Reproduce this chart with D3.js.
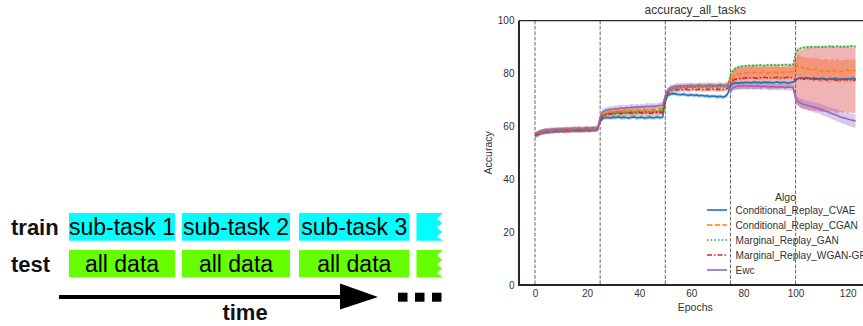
<!DOCTYPE html>
<html><head><meta charset="utf-8">
<script src="https://cdn.jsdelivr.net/npm/d3@7"></script>
<style>html,body{margin:0;padding:0;background:#fff;}svg{display:block;font-family:"Liberation Sans",Arial,sans-serif;}</style>
</head><body>
<svg id="c" width="863" height="326"></svg>
<script>
// ---------- data ----------
const epochs = d3.range(0, 124);
const taskBoundaries = [0, 25, 50, 75, 100];
const yTicks = [0, 20, 40, 60, 80, 100];
const xTicks = [0, 20, 40, 60, 80, 100, 120];
const algos = ["Conditional_Replay_CVAE", "Conditional_Replay_CGAN", "Marginal_Replay_GAN", "Marginal_Replay_WGAN-GP", "Ewc"];
const colors = ["#1f77b4", "#ff7f0e", "#2ca02c", "#d62728", "#9467bd"];
const trainLabels = ["sub-task 1", "sub-task 2", "sub-task 3"];
const testLabels = ["all data", "all data", "all data"];

const cvaeMean = [
56.9,57.3,57.6,57.9,58.1,58.0,58.3,58.2,58.5,58.4,58.6,58.3,58.7,58.5,58.8,58.6,58.7,58.9,58.6,58.8,58.9,58.7,59.0,58.8,59.1,
62.0,63.0,63.3,63.4,63.2,63.5,63.4,63.6,63.3,63.5,63.4,63.2,63.5,63.6,63.3,63.4,63.5,63.2,63.4,63.5,63.3,63.4,63.6,63.3,63.5,
69.5,71.8,72.2,72.4,72.3,72.1,72.0,72.2,71.9,71.8,72.0,71.7,71.9,71.6,71.8,71.5,71.6,71.3,71.5,71.4,71.2,71.4,71.1,71.3,72.4,
75.5,76.3,76.5,76.4,76.6,76.5,76.7,76.6,76.5,76.8,76.6,76.7,76.5,76.8,76.6,76.7,76.5,76.6,76.8,76.5,76.7,76.6,76.4,76.6,76.7,
77.5,78.2,78.3,78.1,78.4,78.2,78.0,78.3,78.1,77.9,78.2,78.0,77.8,78.1,77.9,78.2,78.0,77.7,78.0,77.8,78.1,77.9,78.2,78.0];
const cvaeStd = [
0.9,0.8,1.0,0.9,0.8,1.0,0.9,0.8,0.9,1.0,0.8,0.9,0.9,1.0,0.8,0.9,0.9,0.8,1.0,0.9,0.8,0.9,1.0,0.8,0.9,
0.9,0.8,0.7,0.8,0.7,0.9,0.8,0.7,0.8,0.9,0.7,0.8,0.8,0.7,0.9,0.8,0.7,0.8,0.9,0.7,0.8,0.8,0.9,0.7,0.8,
1.0,0.8,0.7,0.6,0.7,0.8,0.6,0.7,0.7,0.8,0.6,0.7,0.7,0.8,0.6,0.7,0.8,0.7,0.6,0.7,0.8,0.7,0.6,0.7,0.9,
0.8,0.6,0.5,0.5,0.6,0.5,0.5,0.4,0.5,0.6,0.5,0.5,0.4,0.5,0.6,0.5,0.5,0.4,0.5,0.6,0.5,0.5,0.4,0.5,0.5,
0.7,0.5,0.5,0.6,0.5,0.4,0.5,0.6,0.5,0.5,0.4,0.5,0.6,0.5,0.5,0.4,0.5,0.6,0.5,0.5,0.4,0.5,0.6,0.5];

const cganMean = [
56.7,57.2,57.7,58.0,58.3,58.1,58.6,58.4,58.8,58.5,58.9,58.7,59.0,58.6,58.9,59.1,58.8,59.0,58.9,59.2,58.8,59.1,59.0,59.3,59.2,
62.8,64.5,65.2,65.5,65.8,65.6,65.9,66.1,65.8,66.0,66.2,65.9,66.3,66.0,66.4,66.1,66.3,66.5,66.2,66.4,66.6,66.3,66.5,66.8,66.6,
71.0,73.5,74.4,74.8,75.0,75.2,75.1,75.3,75.0,75.4,75.2,75.5,75.3,75.1,75.4,75.2,75.5,75.3,75.6,75.4,75.2,75.5,75.3,75.6,75.9,
77.5,78.8,79.5,79.8,80.0,80.3,80.1,80.5,80.2,80.6,80.3,80.1,80.4,80.7,80.2,80.5,80.3,80.6,80.4,80.2,80.5,80.7,80.4,80.6,80.8,
82.0,83.2,82.6,81.8,82.4,81.5,82.1,81.3,81.9,81.2,80.8,81.6,81.0,80.7,81.3,80.9,81.5,80.6,81.1,80.8,81.4,80.9,81.2,81.0];
const cganStd = [
1.0,1.1,0.9,1.0,1.2,1.0,0.9,1.1,1.0,1.2,0.9,1.0,1.1,1.0,0.9,1.2,1.0,1.1,0.9,1.0,1.1,1.0,1.2,0.9,1.0,
1.2,1.1,1.0,0.9,1.1,1.0,1.2,0.9,1.0,1.1,1.0,0.9,1.1,1.2,1.0,0.9,1.1,1.0,1.0,1.2,0.9,1.1,1.0,1.2,1.1,
1.2,1.0,0.9,0.8,0.9,0.8,0.7,0.9,0.8,0.8,0.7,0.9,0.8,0.8,0.9,0.7,0.8,0.9,0.8,0.7,0.8,0.9,0.8,0.8,1.0,
2.0,2.3,2.5,2.4,2.6,2.5,2.3,2.6,2.4,2.5,2.7,2.4,2.6,2.5,2.3,2.6,2.5,2.4,2.7,2.5,2.6,2.4,2.5,2.6,2.5,
3.0,4.2,4.0,4.5,3.8,4.3,4.1,4.6,3.9,4.4,4.2,3.8,4.5,4.1,4.3,3.9,4.6,4.2,4.0,4.4,3.9,4.3,4.1,4.2];

const ganMean = [
56.8,57.3,57.8,58.0,58.2,58.4,58.3,58.5,58.4,58.7,58.5,58.6,58.8,58.5,58.7,58.9,58.6,58.8,58.7,58.9,59.0,58.8,59.1,58.9,59.2,
62.5,64.0,64.6,64.9,65.1,65.0,65.3,65.2,65.4,65.3,65.5,65.2,65.4,65.6,65.3,65.5,65.4,65.7,65.5,65.6,65.4,65.7,65.5,65.8,65.6,
70.8,73.2,74.0,74.4,74.6,74.8,74.7,74.9,74.8,75.0,74.9,75.1,74.9,75.2,75.0,75.1,74.9,75.2,75.0,75.3,75.1,75.2,75.0,75.3,75.8,
79.5,81.2,82.0,82.5,82.7,82.8,82.9,83.0,82.9,83.1,83.0,83.2,83.1,83.0,83.2,83.1,83.3,83.2,83.1,83.3,83.2,83.4,83.3,83.2,83.4,
87.8,89.2,89.6,89.8,90.0,89.9,90.1,90.0,90.2,90.1,90.0,90.2,90.1,90.3,90.2,90.1,90.3,90.2,90.1,90.3,90.2,90.4,90.3,90.2];
const ganStd = [
0.9,0.8,0.9,1.0,0.8,0.9,0.8,1.0,0.9,0.8,0.9,1.0,0.8,0.9,0.9,0.8,1.0,0.9,0.8,0.9,1.0,0.8,0.9,0.9,0.8,
0.8,0.7,0.8,0.7,0.6,0.8,0.7,0.7,0.8,0.6,0.7,0.8,0.7,0.6,0.8,0.7,0.7,0.8,0.6,0.7,0.8,0.7,0.7,0.6,0.8,
0.8,0.6,0.5,0.5,0.4,0.5,0.5,0.4,0.5,0.5,0.4,0.5,0.5,0.4,0.5,0.5,0.4,0.5,0.5,0.4,0.5,0.5,0.4,0.5,0.6,
1.0,0.7,0.5,0.4,0.4,0.5,0.4,0.4,0.5,0.4,0.4,0.5,0.4,0.4,0.5,0.4,0.4,0.5,0.4,0.4,0.5,0.4,0.4,0.5,0.6,
1.0,0.6,0.5,0.4,0.4,0.5,0.4,0.4,0.5,0.4,0.4,0.5,0.4,0.4,0.5,0.4,0.4,0.5,0.4,0.4,0.5,0.4,0.4,0.5];

const wganMean = [
56.6,57.0,57.5,57.8,58.0,58.2,58.1,58.4,58.3,58.5,58.4,58.6,58.3,58.7,58.5,58.6,58.8,58.5,58.7,58.6,58.9,58.7,58.8,59.0,58.9,
62.0,63.8,64.3,64.6,64.8,64.7,64.9,65.0,64.8,65.1,64.9,65.2,65.0,64.8,65.1,65.3,65.0,65.2,65.1,64.9,65.2,65.4,65.1,65.3,65.2,
70.5,72.6,73.3,73.6,73.8,73.9,74.0,73.8,74.1,73.9,74.0,74.2,73.9,74.1,74.0,73.8,74.1,74.0,74.2,73.9,74.1,74.0,73.9,74.2,74.5,
76.0,77.4,77.9,78.1,78.3,78.2,78.4,78.3,78.5,78.4,78.2,78.5,78.3,78.6,78.4,78.3,78.5,78.4,78.6,78.3,78.5,78.4,78.6,78.5,78.4,
77.6,78.3,78.0,77.8,78.2,77.9,78.1,77.7,78.0,77.8,77.5,77.9,77.6,77.8,78.0,77.7,77.4,77.8,77.6,77.9,77.5,77.7,77.4,77.6];
const wganStd = [
1.0,1.1,0.9,1.0,1.1,1.0,0.9,1.1,1.0,1.0,0.9,1.1,1.0,1.1,0.9,1.0,1.0,1.1,0.9,1.0,1.1,1.0,0.9,1.0,1.1,
1.1,1.0,1.0,0.9,1.1,1.0,0.9,1.0,1.1,1.0,0.9,1.0,1.1,1.0,0.9,1.0,1.1,1.0,1.0,0.9,1.1,1.0,0.9,1.0,1.0,
1.2,0.9,0.8,0.8,0.7,0.8,0.8,0.7,0.8,0.9,0.8,0.7,0.8,0.8,0.9,0.7,0.8,0.8,0.7,0.8,0.9,0.8,0.7,0.8,1.0,
2.5,3.5,3.9,4.1,4.2,4.0,4.3,4.1,4.2,4.4,4.1,4.3,4.2,4.0,4.3,4.2,4.4,4.1,4.3,4.2,4.0,4.3,4.2,4.1,4.2,
9.5,10.5,11.0,11.3,11.6,11.8,12.0,11.9,12.1,12.2,12.0,12.3,12.1,12.4,12.2,12.3,12.5,12.2,12.4,12.3,12.5,12.3,12.4,12.3];

const ewcMean = [
56.9,57.4,57.8,58.1,58.3,58.2,58.5,58.4,58.7,58.6,58.8,58.5,58.9,58.7,59.0,58.8,58.9,59.1,58.8,59.0,59.2,58.9,59.1,59.0,59.3,
63.5,65.5,66.0,66.3,66.5,66.6,66.8,66.7,67.0,66.9,67.1,67.0,67.3,67.2,67.4,67.3,67.5,67.4,67.6,67.5,67.7,67.6,67.8,67.9,68.0,
71.5,73.8,74.6,75.0,75.2,75.3,75.4,75.2,75.5,75.4,75.6,75.3,75.5,75.7,75.4,75.6,75.5,75.7,75.4,75.6,75.5,75.8,75.6,75.5,75.7,
73.5,74.6,75.0,75.3,75.2,75.4,75.3,75.2,75.4,75.1,75.3,75.2,75.0,75.2,75.1,74.9,75.1,75.0,74.8,75.0,74.9,74.7,74.9,74.8,74.7,
71.0,69.4,68.8,68.4,68.1,67.8,67.5,67.3,67.0,66.8,66.3,66.0,65.6,65.2,64.9,64.5,64.1,63.7,63.4,63.1,62.8,62.5,62.3,62.0];
const ewcStd = [
1.0,1.1,1.0,0.9,1.1,1.0,1.2,1.0,0.9,1.1,1.0,1.0,1.1,0.9,1.0,1.1,1.0,1.2,0.9,1.0,1.1,1.0,0.9,1.1,1.0,
1.3,1.2,1.1,1.2,1.0,1.2,1.1,1.3,1.2,1.1,1.0,1.2,1.3,1.1,1.2,1.0,1.2,1.1,1.3,1.2,1.1,1.2,1.0,1.2,1.3,
1.3,1.1,1.0,0.9,1.0,1.1,0.9,1.0,1.0,0.9,1.1,1.0,0.9,1.0,1.1,0.9,1.0,1.0,1.1,0.9,1.0,1.0,0.9,1.1,1.0,
1.5,1.2,1.1,1.2,1.0,1.1,1.2,1.3,1.1,1.2,1.0,1.1,1.3,1.2,1.1,1.2,1.3,1.1,1.2,1.0,1.2,1.1,1.3,1.2,1.2,
1.8,1.6,1.7,1.8,1.7,1.9,1.8,2.0,1.9,1.8,2.0,2.1,1.9,2.0,2.2,2.1,2.3,2.2,2.4,2.3,2.5,2.4,2.6,2.5];

const means = [cvaeMean, cganMean, ganMean, wganMean, ewcMean];
const stds = [cvaeStd, cganStd, ganStd, wganStd, ewcStd];
const dashes = [null, "5.5,2.2", "1.5,2.2", "5,2,1.5,2", null];

// ---------- drawing ----------
const svg = d3.select("#c");
const FONT = '"Liberation Sans", Arial, sans-serif';

// ----- left diagram -----
const diag = svg.append("g");
const boxX = [[69, 175], [182, 290], [299, 409.5]];
const trainY = [213, 240.7], testY = [250, 277.3];
diag.append("text").attr("x", 11).attr("y", 235).attr("font-size", 22).attr("font-weight", "bold").attr("fill", "#111").text("train");
diag.append("text").attr("x", 11).attr("y", 271.5).attr("font-size", 22).attr("font-weight", "bold").attr("fill", "#111").text("test");
boxX.forEach((b, i) => {
  diag.append("rect").attr("x", b[0]).attr("y", trainY[0]).attr("width", b[1] - b[0]).attr("height", trainY[1] - trainY[0]).attr("fill", "#00ffff");
  diag.append("rect").attr("x", b[0]).attr("y", testY[0]).attr("width", b[1] - b[0]).attr("height", testY[1] - testY[0]).attr("fill", "#66ff00");
  diag.append("text").attr("x", (b[0] + b[1]) / 2).attr("y", 235).attr("text-anchor", "middle").attr("font-size", 23).attr("fill", "#000").text(trainLabels[i]);
  diag.append("text").attr("x", (b[0] + b[1]) / 2).attr("y", 271.5).attr("text-anchor", "middle").attr("font-size", 23).attr("fill", "#000").text(testLabels[i]);
});
function torn(y0, y1) {
  const h = y1 - y0;
  const pts = [[416.5, y0], [443, y0], [437, y0 + h * 0.2], [442, y0 + h * 0.36], [437, y0 + h * 0.52], [442, y0 + h * 0.68], [437, y0 + h * 0.84], [443, y1], [416.5, y1]];
  return "M" + pts.map(p => p.join(",")).join("L") + "Z";
}
diag.append("path").attr("d", torn(trainY[0], trainY[1])).attr("fill", "#00ffff");
diag.append("path").attr("d", torn(testY[0], testY[1])).attr("fill", "#66ff00");
diag.append("line").attr("x1", 59).attr("x2", 342).attr("y1", 297).attr("y2", 297).attr("stroke", "#000").attr("stroke-width", 4);
diag.append("path").attr("d", "M340,283.5L378,297L340,309.5Z").attr("fill", "#000");
[398, 415, 432].forEach(x => diag.append("rect").attr("x", x).attr("y", 292.7).attr("width", 9.5).attr("height", 9).attr("fill", "#000"));
diag.append("text").attr("x", 245).attr("y", 320).attr("text-anchor", "middle").attr("font-size", 22).attr("font-weight", "bold").attr("fill", "#111").text("time");

// ----- chart -----
const px0 = 535, pxPerUnit = (847.7 - 535) / 120;
const x = d3.scaleLinear().domain([-6.15, 129.15]).range([px0 - 6.15 * pxPerUnit, px0 + 129.15 * pxPerUnit]);
const y = d3.scaleLinear().domain([0, 100]).range([285, 20.7]);
const [L, R] = x.range();
const T = y(100), B = y(0);

const chart = svg.append("g");
chart.append("defs").append("clipPath").attr("id", "pc").append("rect").attr("x", L).attr("y", T).attr("width", R - L).attr("height", B - T);

// boundaries
chart.append("g").selectAll("line").data(taskBoundaries).join("line")
  .attr("x1", d => x(d)).attr("x2", d => x(d)).attr("y1", T).attr("y2", B)
  .attr("stroke", "#555").attr("stroke-width", 0.9).attr("stroke-dasharray", "3.7,1.6");

const pg = chart.append("g").attr("clip-path", "url(#pc)");
const area = (m, s) => d3.area().x((d, i) => x(epochs[i])).y0((d, i) => y(m[i] - s[i])).y1((d, i) => y(m[i] + s[i]));
const line = m => d3.line().x((d, i) => x(epochs[i])).y((d, i) => y(m[i]));

means.forEach((m, k) => {
  pg.append("path").attr("d", area(m, stds[k])(m)).attr("fill", colors[k]).attr("fill-opacity", 0.35).attr("stroke", "none");
});
means.forEach((m, k) => {
  pg.append("path").attr("d", line(m)(m)).attr("fill", "none").attr("stroke", colors[k]).attr("stroke-width", 1.6)
    .attr("stroke-dasharray", dashes[k]);
});

// spines
chart.append("line").attr("x1", L).attr("x2", R).attr("y1", T).attr("y2", T).attr("stroke", "#262626").attr("stroke-width", 1.2);
chart.append("line").attr("x1", L).attr("x2", L).attr("y1", T).attr("y2", B + 1).attr("stroke", "#262626").attr("stroke-width", 2);
chart.append("line").attr("x1", L - 1).attr("x2", R).attr("y1", B).attr("y2", B).attr("stroke", "#262626").attr("stroke-width", 2);

// axes
const ya = chart.append("g").attr("transform", `translate(${L},0)`)
  .call(d3.axisLeft(y).tickValues(yTicks).tickSize(0).tickPadding(4.5).tickFormat(d3.format("d")));
const xa = chart.append("g").attr("transform", `translate(0,${B})`)
  .call(d3.axisBottom(x).tickValues(xTicks).tickSize(0).tickPadding(4.5).tickFormat(d3.format("d")));
[ya, xa].forEach(a => {
  a.select(".domain").remove();
  a.selectAll("text").attr("font-size", 10).attr("font-family", FONT).attr("fill", "#333");
});

chart.append("text").attr("x", (L + R) / 2).attr("y", 14).attr("text-anchor", "middle").attr("font-size", 12).attr("fill", "#333").text("accuracy_all_tasks");
chart.append("text").attr("x", (L + R) / 2).attr("y", 311).attr("text-anchor", "middle").attr("font-size", 10.5).attr("fill", "#333").text("Epochs");
chart.append("text").attr("transform", `translate(491.5,${(T + B) / 2}) rotate(-90)`).attr("text-anchor", "middle").attr("font-size", 10.5).attr("fill", "#333").text("Accuracy");

// legend
const lg = chart.append("g");
lg.append("text").attr("x", 785.5).attr("y", 200.5).attr("text-anchor", "middle").attr("font-size", 10.5).attr("fill", "#333").text("Algo");
algos.forEach((a, k) => {
  const yy = 210 + k * 15;
  lg.append("line").attr("x1", 707).attr("x2", 727).attr("y1", yy).attr("y2", yy).attr("stroke", colors[k]).attr("stroke-width", 1.6).attr("stroke-dasharray", dashes[k]);
  lg.append("text").attr("x", 735.5).attr("y", yy + 3.7).attr("font-size", 10.1).attr("fill", "#333").text(a);
});
</script>
</body></html>
